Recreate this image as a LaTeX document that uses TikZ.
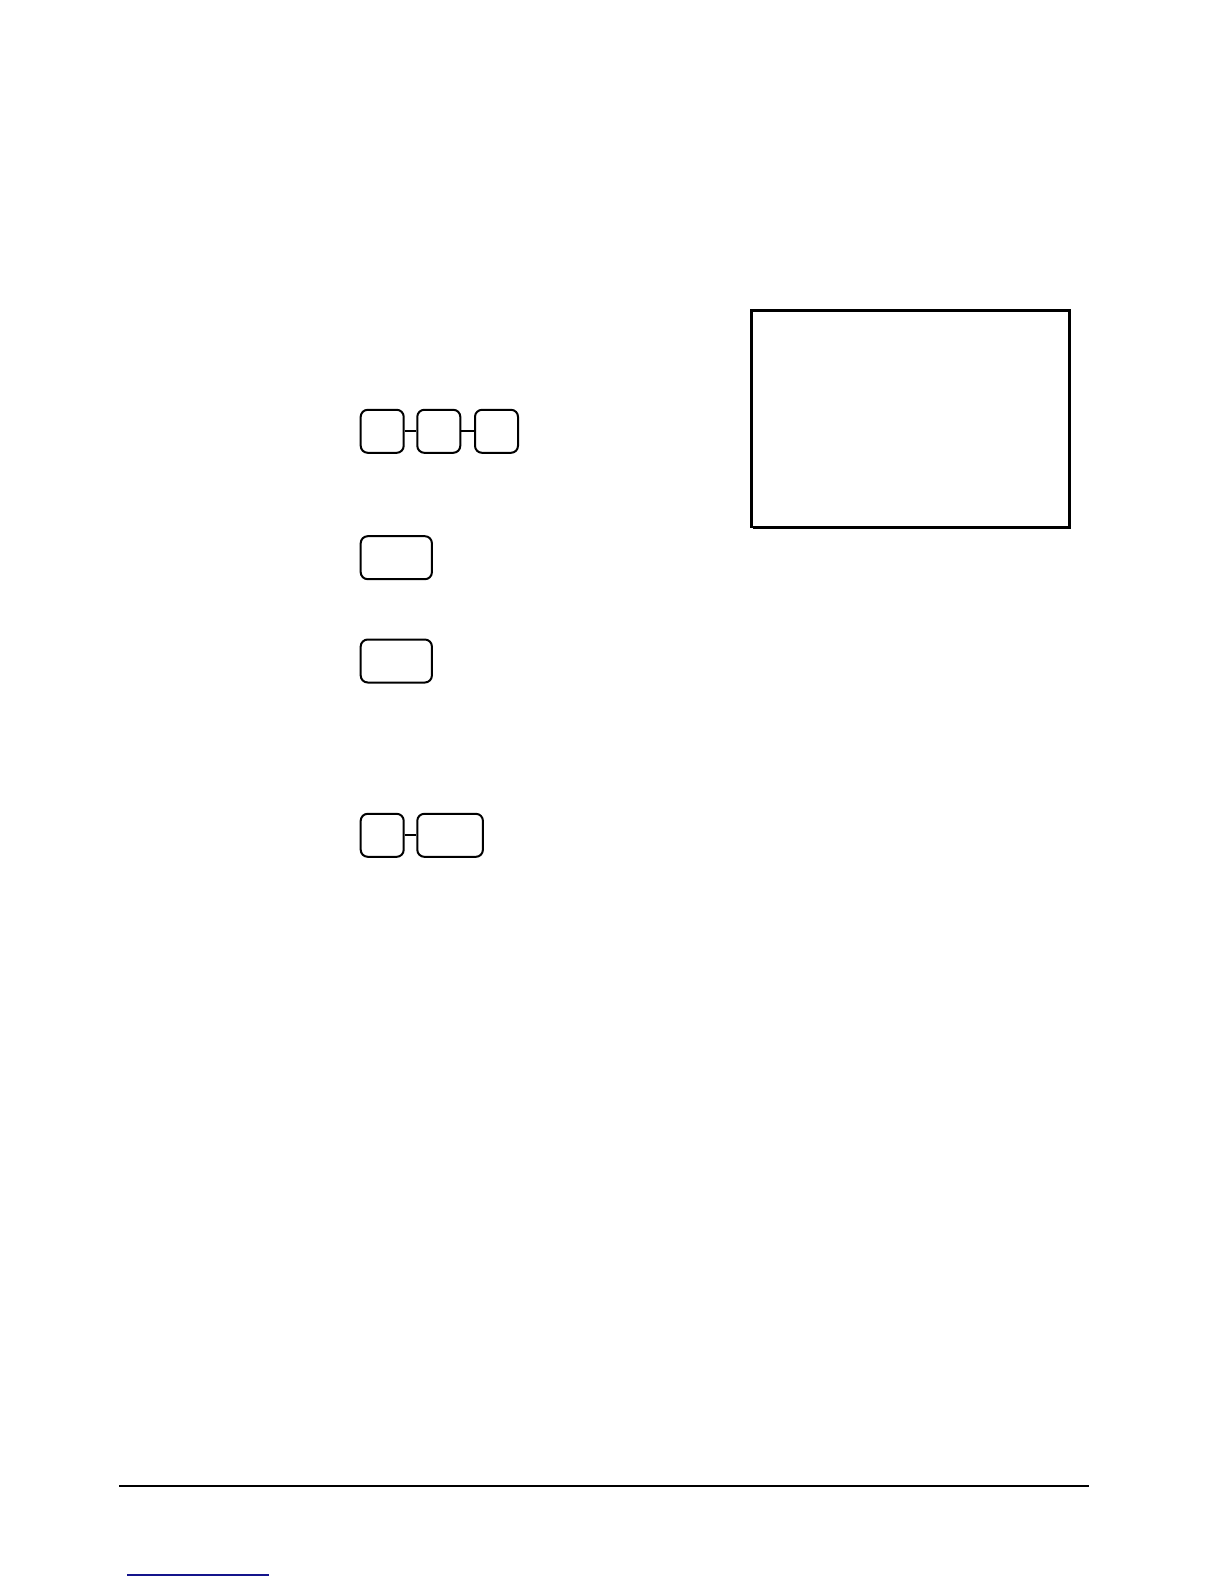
\documentclass[tikz,border=0pt]{standalone}
\usetikzlibrary{shadows}
\begin{document}
\begin{tikzpicture}[x=0.5pt,y=-0.5pt,
  keybox/.style={draw=black, line width=1pt, rounded corners=3.5pt, inner sep=0pt, minimum height=21.5pt, anchor=north west},
  smallkey/.style={keybox, minimum width=21.5pt},
  widekey/.style={keybox, minimum width=35.6pt},
  midkey/.style={keybox, minimum width=32.8pt},
  link/.style={line width=1pt},
  display/.style={draw=black, line width=1.3pt, fill=white, inner sep=0pt, anchor=north west, minimum width=159pt, minimum height=108.3pt},
  rule/.style={line width=1.4pt}]
\useasboundingbox (0,0) rectangle (1224,1584);
\fill[white] (0,0) rectangle (1224,1584);
% row 1: three keys
\node[smallkey] (k1) at (359.7,408.8) {};
\node[smallkey] (k2) at (416.3,408.8) {};
\node[smallkey] (k3) at (474,408.8) {};
\draw[link] (k1.east) -- (k2.west);
\draw[link] (k2.east) -- (k3.west);
% single keys
\node[widekey] (k4) at (359.7,535.2) {};
\node[widekey] (k5) at (359.7,638.5) {};
% row with two keys
\node[smallkey] (k6) at (359.7,812.8) {};
\node[midkey] (k7) at (416.3,812.8) {};
\draw[link] (k6.east) -- (k7.west);
% display box with shadow
\fill[black] (753,312) rectangle (1071,528.5);
\node[display] (disp) at (750.3,309) {};
% bottom rule
\coordinate (rl) at (119,1486);
\coordinate (rr) at (1089,1486);
\draw[rule] (rl) -- (rr);
% blue link underline
\coordinate (bl) at (127,1575);
\coordinate (br) at (269,1575);
\draw[line width=0.6pt, draw={rgb,255:red,20;green,20;blue,140}] (bl) -- (br);
\end{tikzpicture}
\end{document}
